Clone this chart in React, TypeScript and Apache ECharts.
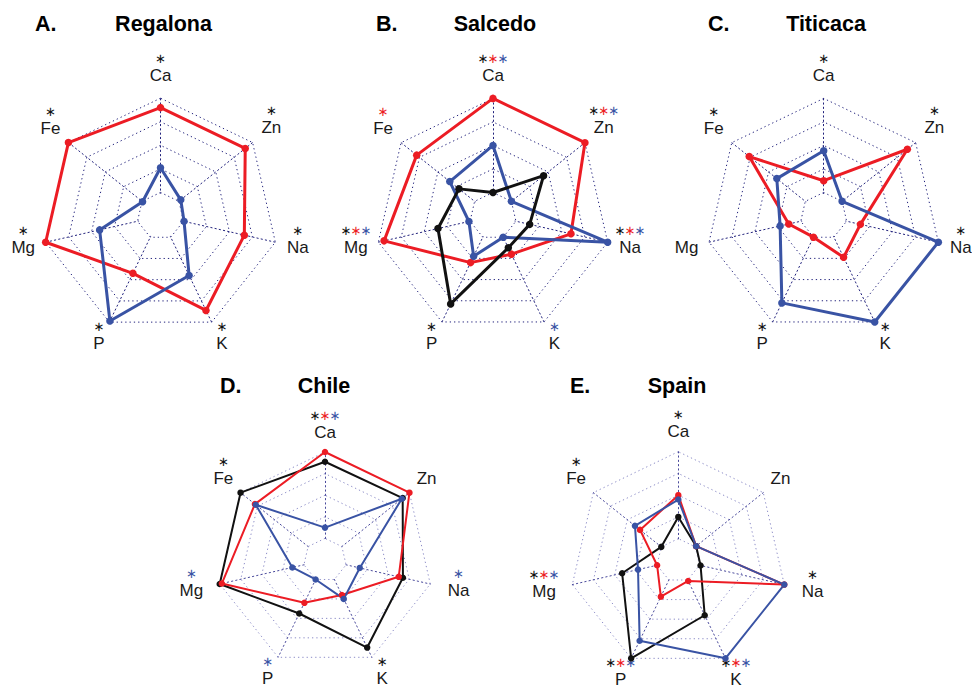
import React, { useEffect, useRef } from 'react';
import * as echarts from 'echarts';

// Elements in clockwise order starting at the top axis
const elements = ['Ca', 'Zn', 'Na', 'K', 'P', 'Mg', 'Fe'];

// Normalised concentrations (0 = centre, 1 = outer ring), order as in `elements`
const regalonaRed = [0.92, 0.92, 0.73, 0.89, 0.54, 1.0, 1.0];
const regalonaBlue = [0.41, 0.22, 0.205, 0.56, 0.99, 0.53, 0.195];

const salcedoRed = [1.0, 1.0, 0.68, 0.36, 0.44, 0.95, 0.83];
const salcedoBlue = [0.6, 0.2, 1.0, 0.2, 0.38, 0.21, 0.47];
const salcedoBlack = [0.2, 0.55, 0.32, 0.3, 0.83, 0.48, 0.37];

const titicacaRed = [0.3, 0.91, 0.32, 0.39, 0.2, 0.305, 0.81];
const titicacaBlue = [0.555, 0.2, 1.0, 1.0, 0.82, 0.38, 0.51];

const chileBlack = [0.91, 0.92, 0.74, 0.9, 0.55, 1.0, 1.0];
const chileRed = [1.0, 1.0, 0.7, 0.36, 0.44, 0.98, 0.83];
const chileBlue = [0.3, 0.91, 0.33, 0.4, 0.2, 0.31, 0.82];

const spainBlack = [0.4, 0.21, 0.21, 0.56, 1.0, 0.53, 0.2];
const spainRed = [0.6, 0.21, 1.0, 0.21, 0.37, 0.2, 0.45];
const spainBlue = [0.56, 0.21, 1.0, 1.0, 0.82, 0.38, 0.51];

// Significance markers per element: k = black, r = red, b = blue
const regalonaStars = ['k', 'k', 'k', 'k', 'k', 'k', 'k'];
const salcedoStars = ['krb', 'krb', 'krb', 'b', 'k', 'krb', 'r'];
const titicacaStars = ['k', 'k', 'k', 'k', 'k', '', 'k'];
const chileStars = ['krb', '', 'b', 'k', 'b', 'b', 'k'];
const spainStars = ['k', '', 'k', 'krb', 'krb', 'krb', 'k'];

const COLORS: Record<string, string> = {
  k: '#111111',
  r: '#ec1c24',
  b: '#3953a4',
};

type Line = { key: string; values: number[] };
type Panel = {
  letter: string;
  name: string;
  letterX: number;
  nameX: number;
  titleY: number;
  cx: number;
  cy: number;
  r: number;
  big: boolean;
  lines: Line[];
  stars: string[];
};

const panels: Panel[] = [
  {
    letter: 'A.', name: 'Regalona', letterX: 35, nameX: 163.5, titleY: 24,
    cx: 160.5, cy: 216, r: 117.8, big: true,
    lines: [
      { key: 'r', values: regalonaRed },
      { key: 'b', values: regalonaBlue },
    ],
    stars: regalonaStars,
  },
  {
    letter: 'B.', name: 'Salcedo', letterX: 376, nameX: 495, titleY: 24,
    cx: 493, cy: 216, r: 117.6, big: true,
    lines: [
      { key: 'r', values: salcedoRed },
      { key: 'b', values: salcedoBlue },
      { key: 'k', values: salcedoBlack },
    ],
    stars: salcedoStars,
  },
  {
    letter: 'C.', name: 'Titicaca', letterX: 708, nameX: 826, titleY: 24,
    cx: 823.7, cy: 216, r: 117.6, big: true,
    lines: [
      { key: 'r', values: titicacaRed },
      { key: 'b', values: titicacaBlue },
    ],
    stars: titicacaStars,
  },
  {
    letter: 'D.', name: 'Chile', letterX: 220, nameX: 324, titleY: 386,
    cx: 325, cy: 560, r: 108, big: false,
    lines: [
      { key: 'k', values: chileBlack },
      { key: 'r', values: chileRed },
      { key: 'b', values: chileBlue },
    ],
    stars: chileStars,
  },
  {
    letter: 'E.', name: 'Spain', letterX: 570, nameX: 677, titleY: 386,
    cx: 678.3, cy: 560.4, r: 108.7, big: false,
    lines: [
      { key: 'k', values: spainBlack },
      { key: 'r', values: spainRed },
      { key: 'b', values: spainBlue },
    ],
    stars: spainStars,
  },
];

// ECharts places indicators counter-clockwise, so feed them in reverse after the first
const indicatorOrder = [0, 6, 5, 4, 3, 2, 1];

// Gap between outer ring and label centre, per element
const bigLabelGap = [23, 24, 23, 24, 24, 23, 23];
const smallLabelGap = [20, 22, 29, 24, 24, 29, 22];

const SPLITS = 5;
const LABEL_FONT = '"Liberation Sans", Arial, sans-serif';
const DOTS = [1.3, 3];

function buildOption() {
  const radar = panels.map((p) => ({
    center: [p.cx, p.cy],
    radius: p.r,
    startAngle: 90,
    shape: 'polygon',
    splitNumber: SPLITS,
    indicator: indicatorOrder.map((i) => ({ name: elements[i], min: 0, max: 1 })),
    axisName: { show: false },
    axisLine: {
      lineStyle: { color: p.big ? '#24247e' : '#4a4a9c', width: 1, type: DOTS },
    },
    splitLine: {
      lineStyle: { color: p.big ? '#24247e' : '#8d8dc8', width: 1, type: DOTS },
    },
    splitArea: { show: false },
  }));

  const series: any[] = [];
  panels.forEach((p, pi) => {
    // White core inside the innermost ring, so spokes start from that ring
    const core = (1 / SPLITS) * 0.95;
    series.push({
      type: 'radar',
      radarIndex: pi,
      silent: true,
      z: 1,
      symbol: 'none',
      lineStyle: { width: 0, opacity: 0 },
      areaStyle: { color: '#ffffff', opacity: 1 },
      data: [{ value: elements.map(() => core) }],
    });
    p.lines.forEach((line) => {
      series.push({
        type: 'radar',
        radarIndex: pi,
        silent: true,
        z: 2,
        symbol: 'circle',
        symbolSize: p.big ? 7.5 : 6.5,
        lineStyle: { color: COLORS[line.key], width: p.big ? 3 : 2 },
        itemStyle: { color: COLORS[line.key] },
        data: [{ value: indicatorOrder.map((i) => line.values[i]), name: p.name }],
      });
    });
  });

  const graphic: any[] = [];
  panels.forEach((p) => {
    graphic.push({
      type: 'text',
      x: p.letterX,
      y: p.titleY,
      style: {
        text: p.letter,
        fontFamily: LABEL_FONT,
        fontWeight: 'bold',
        fontSize: 21.5,
        fill: '#000',
        align: 'left',
        verticalAlign: 'middle',
      },
    });
    graphic.push({
      type: 'text',
      x: p.nameX,
      y: p.titleY,
      style: {
        text: p.name,
        fontFamily: LABEL_FONT,
        fontWeight: 'bold',
        fontSize: 21.5,
        fill: '#000',
        align: 'center',
        verticalAlign: 'middle',
      },
    });

    elements.forEach((el, i) => {
      const theta = (i * 2 * Math.PI) / elements.length;
      const gap = (p.big ? bigLabelGap : smallLabelGap)[i];
      const dist = p.r + gap;
      const lx = p.cx + dist * Math.sin(theta);
      const ly = p.cy - dist * Math.cos(theta);
      graphic.push({
        type: 'text',
        x: lx,
        y: ly,
        style: {
          text: el,
          fontFamily: LABEL_FONT,
          fontSize: 17,
          fill: '#1a1a1a',
          align: 'center',
          verticalAlign: 'middle',
        },
      });
      const marks = p.stars[i];
      for (let k = 0; k < marks.length; k++) {
        graphic.push({
          type: 'text',
          x: lx + (k - (marks.length - 1) / 2) * 10,
          y: ly - 17,
          silent: true,
          style: {
            text: '\u2217',
            fontFamily: '"DejaVu Sans", sans-serif',
            fontSize: 13,
            fill: COLORS[marks[k]],
            align: 'center',
            verticalAlign: 'middle',
          },
        });
      }
    });
  });

  return {
    animation: false,
    backgroundColor: '#ffffff',
    radar,
    series,
    graphic,
  };
}

export default function App() {
  const ref = useRef<HTMLDivElement>(null);
  useEffect(() => {
    if (!ref.current) return;
    const chart = echarts.init(ref.current, null, { renderer: 'svg' });
    chart.setOption(buildOption() as any);
    return () => chart.dispose();
  }, []);
  return (
    <div
      ref={ref}
      style={{ position: 'fixed', left: 0, top: 0, width: 972, height: 685, background: '#fff' }}
    />
  );
}
